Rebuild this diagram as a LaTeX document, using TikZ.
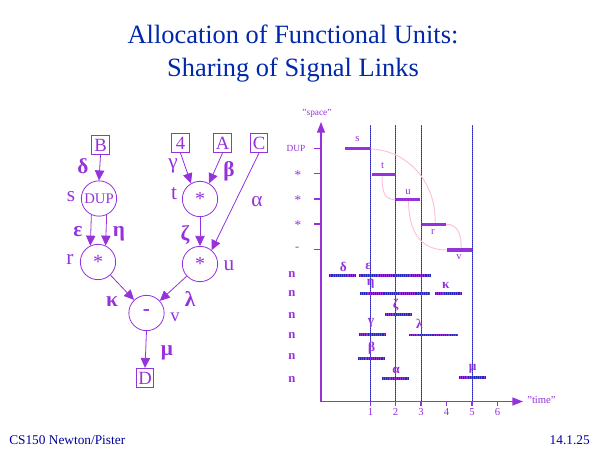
\documentclass[tikz,border=0pt]{standalone}
\usepackage{fontspec}
\setmainfont{Liberation Serif}
\usetikzlibrary{arrows.meta}
\definecolor{pur}{RGB}{150,50,220}
\definecolor{ttl}{RGB}{0,40,170}
\definecolor{ftr}{RGB}{0,0,160}
\definecolor{pnk}{RGB}{255,190,220}
\definecolor{hblue}{RGB}{40,40,190}
\begin{document}
\begin{tikzpicture}[x=0.75pt,y=-0.75pt,
  tipA/.style={-{Triangle[length=7.5pt,width=7pt]}},
  opnode/.style={circle,draw=pur,line width=0.6pt,minimum size=26.5pt,inner sep=0pt,text=pur},
  iobox/.style={draw=pur,line width=0.6pt,text=pur,inner sep=1pt,minimum width=13pt,minimum height=14.5pt,font=\fontsize{14}{14}\selectfont},
  glab/.style={text=pur,font=\fontsize{16}{16}\selectfont},
  flow/.style={draw=pur,line width=0.6pt,tipA},
  bar/.style={draw=pur,line width=2.3pt},
  hatch/.style={draw=pur,line width=2.3pt,postaction={draw=hblue,dash pattern=on 0.8pt off 0.8pt}},
  vline/.style={draw=hblue,line width=0.55pt,postaction={draw=pur,dash pattern=on 0.75pt off 0.75pt}},
  dep/.style={draw=pnk,line width=0.7pt},
  axis/.style={draw=pur,line width=1pt},
  clab/.style={text=pur,font=\fontsize{8}{8}\selectfont,inner sep=0pt},
  cglab/.style={text=pur,font=\bfseries\fontsize{10}{10}\selectfont,inner sep=0pt},
  nlab/.style={text=pur,font=\bfseries\fontsize{9.5}{9.5}\selectfont,inner sep=0pt}]
\useasboundingbox[fill=white] (0,0) rectangle (600,450);

% title and footer
\node[text=ttl,font=\fontsize{19.8}{24}\selectfont,anchor=base] (title1) at (293,43.3) {Allocation of Functional Units:};
\node[text=ttl,font=\fontsize{19.8}{24}\selectfont,anchor=base] (title2) at (293,76.7) {Sharing of Signal Links};
\node[text=ftr,font=\fontsize{10}{12}\selectfont,anchor=base west,inner sep=0pt] (foot1) at (9,444) {CS150 Newton/Pister};
\node[text=ftr,font=\fontsize{10}{12}\selectfont,anchor=base east,inner sep=0pt] (foot2) at (590,444) {14.1.25};

% ---------- left graph ----------
\node[iobox] (B) at (100.5,145) {B};
\node[iobox] (n4) at (180.5,143) {4};
\node[iobox] (A) at (222.5,143) {A};
\node[iobox] (C) at (259,143) {C};
\node[iobox] (D) at (145,378) {D};

\node[opnode,font=\fontsize{11}{11}\selectfont] (s) at (99,198.5) {DUP};
\node[opnode,font=\fontsize{15}{15}\selectfont] (t) at (200,199) {*};
\node[opnode,font=\fontsize{15}{15}\selectfont] (r) at (98,262) {*};
\node[opnode,font=\fontsize{15}{15}\selectfont] (u) at (200,264) {*};
\node[opnode,font=\bfseries\fontsize{16}{16}\selectfont] (v) at (146.5,313) {-};

\draw[flow] (B.south) -- (s.north);
\draw[flow] (n4.south) -- (t.120);
\draw[flow] (A.south) -- (t.60);
\draw[flow] (C.south) -- (u.50);
\draw[flow] (t.south) -- (u.north);
\draw[flow] (s.245) -- (r.115);
\draw[flow] (s.295) -- (r.65);
\draw[flow] (r) -- (v);
\draw[flow] (u) -- (v);
\draw[flow] (v.south) -- (D.north);

\node[glab,font=\bfseries\fontsize{16}{16}\selectfont] (ldelta) at (83,166) {δ};
\node[glab] (lgamma) at (173,166) {γ};
\node[glab,font=\bfseries\fontsize{16}{16}\selectfont] (lbeta) at (229,171) {β};
\node[glab] (ls) at (71,197) {s};
\node[glab] (lt) at (174,194) {t};
\node[glab] (lalpha) at (257,202) {α};
\node[glab,font=\bfseries\fontsize{16}{16}\selectfont] (leps) at (78,232) {ε};
\node[glab,font=\bfseries\fontsize{16}{16}\selectfont] (leta) at (119,234) {η};
\node[glab,font=\bfseries\fontsize{16}{16}\selectfont] (lzeta) at (185,235) {ζ};
\node[glab] (lr) at (70,259) {r};
\node[glab] (lu) at (229,266) {u};
\node[glab,font=\bfseries\fontsize{16}{16}\selectfont] (lkappa) at (112,302) {κ};
\node[glab,font=\bfseries\fontsize{16}{16}\selectfont] (llambda) at (190,299) {λ};
\node[glab,font=\fontsize{14}{14}\selectfont] (lv) at (175,317) {v};
\node[glab,font=\bfseries\fontsize{16}{16}\selectfont] (lmu) at (167,353) {μ};

% ---------- right chart ----------
\coordinate (O) at (321,401.5);
\coordinate (Ytop) at (321,122);
\coordinate (Xend) at (523,401.5);

% vertical time lines
\foreach \xx in {370.5,395.5,421,472} \draw[vline] (\xx,125) -- (\xx,401.5);

% axes
\draw[axis,-{Triangle[length=8pt,width=6pt]}] (O) -- (Ytop);
\draw[axis,-{Triangle[length=8pt,width=6pt]}] (O) -- (Xend);
\node[clab,font=\fontsize{7}{7}\selectfont] (spacelab) at (317,113) {"space"};
\node[clab,font=\fontsize{8}{8}\selectfont,anchor=west] (timelab) at (527,400) {"time"};

% x ticks
\foreach \xx/\lab in {370.5/1,395.5/2,421/3,446.5/4,472/5,497.5/6}{
  \draw[axis] (\xx,401.5) -- (\xx,405.5);
  \node[clab] at (\xx,412) {\lab};
}
% y ticks top
\foreach \yy in {148.7,173.7,199,224,249.3}{
  \draw[axis] (314,\yy) -- (321,\yy);
}
\node[clab,font=\fontsize{7}{7}\selectfont] (yl1) at (296,148.7) {DUP};
\node[clab,font=\fontsize{10}{10}\selectfont] (yl2) at (298,175) {*};
\node[clab,font=\fontsize{10}{10}\selectfont] (yl3) at (298,200.5) {*};
\node[clab,font=\fontsize{10}{10}\selectfont] (yl4) at (298,225.5) {*};
\node[clab,font=\fontsize{9}{9}\selectfont] (yl5) at (297,249) {-};

\foreach \yy in {275,294,316,336,356.7,380} \node[nlab] at (292,\yy) {n};

% dependency curves
\draw[dep] (371,149) .. controls (405,150) and (437,180) .. (435,224);
\draw[dep] (382,176) .. controls (382,195) and (386,199.5) .. (395,199.5);
\draw[dep] (408.5,201) .. controls (409,238) and (425,250) .. (447,250);
\draw[dep] (446,224.3) .. controls (458,224) and (462,235) .. (461,250);

% schedule bars
\draw[bar] (345,148.7) -- (370.5,148.7);
\draw[bar] (371.5,174.5) -- (395.5,174.5);
\draw[bar] (395.5,199.5) -- (420,199.5);
\draw[bar] (421.5,224.3) -- (445.7,224.3);
\draw[bar] (446.7,250) -- (472,250);
\node[clab] (bs) at (357.5,139) {s};
\node[clab] (bt) at (382.5,166) {t};
\node[clab] (bu) at (408,192) {u};
\node[clab] (br) at (433,231.5) {r};
\node[clab] (bv) at (459,257) {v};

% link bars
\draw[hatch] (329.3,275.3) -- (356,275.3);
\draw[hatch] (359.3,275.3) -- (430,275.3);
\draw[hatch] (360,293.3) -- (430,293.3);
\draw[hatch] (435,293.3) -- (461.7,293.3);
\draw[hatch] (385,314.3) -- (411,314.3);
\draw[hatch] (359,334.7) -- (386,334.7);
\draw[hatch,line width=1.6pt] (409,334.7) -- (458,334.7);
\draw[hatch] (358,358.3) -- (385,358.3);
\draw[hatch] (382,378.3) -- (409,378.3);
\draw[hatch] (459,377.5) -- (485.5,377.5);

\node[cglab] (hdelta) at (343.3,266.5) {δ};
\node[cglab] (heps) at (368.3,266) {ε};
\node[cglab] (heta) at (370.7,284) {η};
\node[cglab] (hkappa) at (445.7,285) {κ};
\node[cglab] (hzeta) at (395.7,305.5) {ζ};
\node[cglab] (hgamma) at (371,322.5) {γ};
\node[cglab] (hlambda) at (419.3,323.5) {λ};
\node[cglab] (hbeta) at (371.7,348.5) {β};
\node[cglab] (halpha) at (396,370) {α};
\node[cglab] (hmu) at (472.7,368.5) {μ};
\end{tikzpicture}
\end{document}
